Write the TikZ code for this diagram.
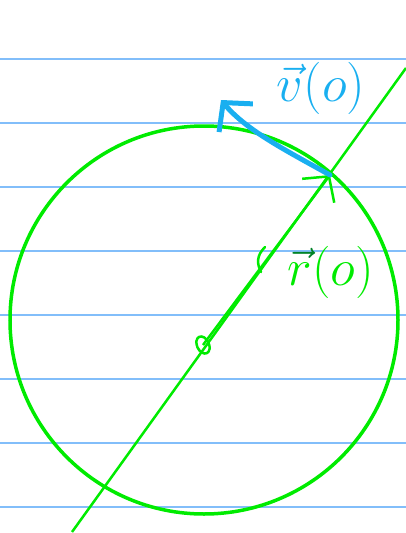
\documentclass[tikz,border=0pt]{standalone}
\usepackage{amsmath,mathtools}
\usetikzlibrary{arrows.meta,positioning}
\definecolor{penGreen}{RGB}{0,235,0}
\definecolor{penDark}{RGB}{0,130,40}
\definecolor{penCyan}{RGB}{25,175,240}
\definecolor{ruleBlue}{RGB}{130,190,250}
\tikzset{
  ruled/.style={draw=ruleBlue,line width=1.5pt},
  orbit/.style={draw=penGreen,line width=3.5pt},
  radial/.style={draw=penGreen,line width=2.5pt},
  velocity/.style={draw=penCyan,line width=5pt,line cap=round,line join=round},
  handtext/.style={inner sep=0pt,font=\Huge,scale=2.1}
}
\begin{document}
\begin{tikzpicture}[x=1pt,y=-1pt]
\useasboundingbox (0,0) rectangle (406,533);
% ruled paper
\foreach \h in {59,123,187,251,315,379,443,507}
  \draw[ruled] (0,\h) -- (406,\h);
% circle and line through the origin
\coordinate (C) at (204,320);
\coordinate (A) at (72,532);
\coordinate (B) at (406,68);
\coordinate (O) at (203,345);
\coordinate (P) at (330,175);
\coordinate (T) at (221,100);
\draw[orbit] (C) circle [radius=194];
\draw[radial] (A)--(B);
\draw[radial,-{Straight Barb[length=18pt,width=40pt,line width=2.5pt]}] (O)--(P);
\draw[radial] (O) ellipse [x radius=6, y radius=9, rotate=25];
\draw[radial,line cap=round] (265,247) .. controls (256,256) and (257,264) .. (261,272);
% velocity
\draw[velocity,-{Straight Barb[length=20pt,width=44pt,line width=5pt]}]
  (P) .. controls (285,150) and (246,130) .. (T);
\node[handtext,text=penCyan] (vel) at (321,88) {$\vec{v}(o)$};
\node[handtext,text=penGreen] (pos) at (331,272)
  {$\mathrlap{\color{penDark}\vec{\phantom{r}}}r(o)$};
\end{tikzpicture}
\end{document}
